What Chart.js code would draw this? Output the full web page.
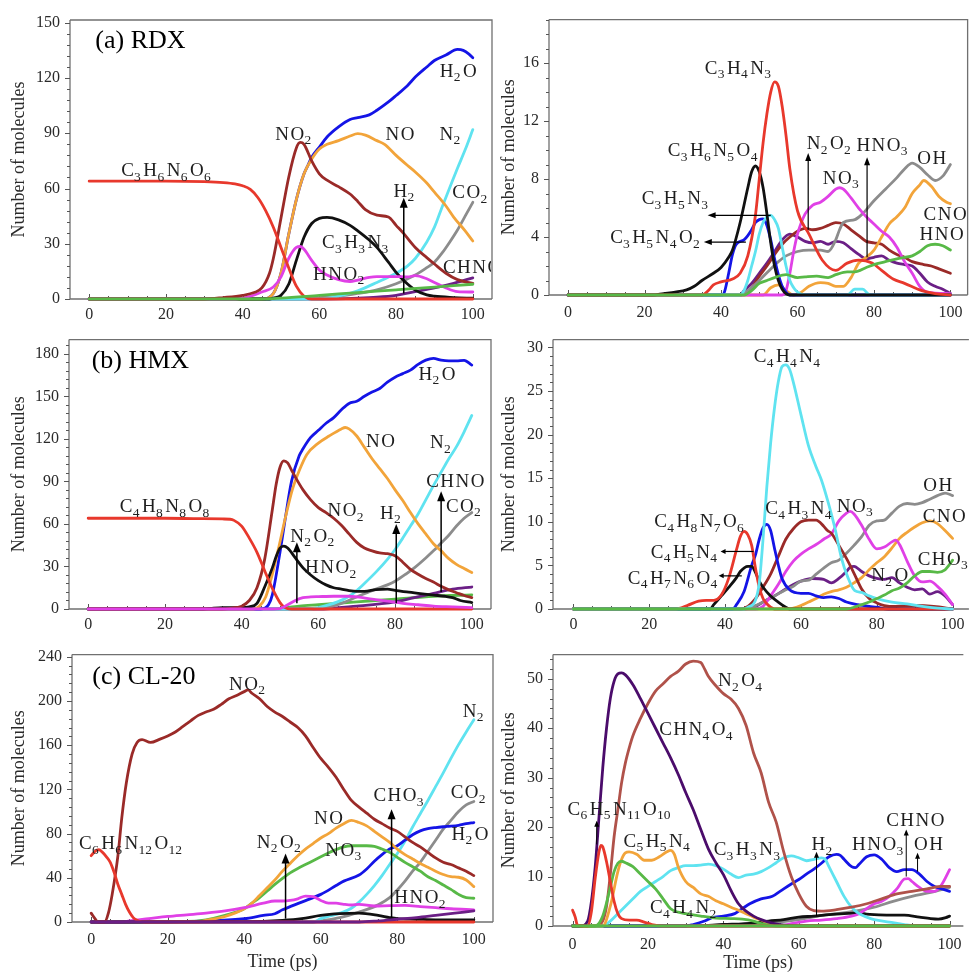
<!DOCTYPE html>
<html><head><meta charset="utf-8">
<script src="https://cdn.jsdelivr.net/npm/chart.js@4.4.1/dist/chart.umd.min.js"></script>
<style>
html,body{margin:0;padding:0;background:#fff;}
#wrap{position:relative;width:971px;height:974px;overflow:hidden;background:#fff;}
canvas{position:absolute;}
</style></head><body><div id="wrap">
<canvas id="aL"></canvas><canvas id="aR"></canvas>
<canvas id="bL"></canvas><canvas id="bR"></canvas>
<canvas id="cL"></canvas><canvas id="cR"></canvas>
</div>
<script>
// ---------------- DATA (time in ps, number of molecules) ----------------
const xTicks = [0, 20, 40, 60, 80, 100];
const yLabel = 'Number of molecules';
const xLabel = 'Time (ps)';
const panelTitles = ['(a) RDX', '(b) HMX', '(c) CL-20'];

// (a) RDX, main species
const aL_C3H6N6O6 = [[0,64],[10,64],[20,64],[30,63.7],[35,63.2],[38,62.5],[40,61.5],[42,59.5],[44,55],[46,48],[48,39],[50,28],[52,17],[54,7],[56,1.5],[58,0],[100,0]];
const aL_NO2 = [[0,0],[30,0],[35,0.8],[40,2],[43,3.5],[45,6],[47,14],[48,22],[50,44],[52,66],[54,82],[55,85],[56,84],[58,75],[60,68],[62,64.5],[65,61],[68,57],[70,53],[72,48.5],[75,45.5],[78,44.5],[80,40],[82,35.5],[85,28],[88,22.5],[90,19],[93,14],[96,10.5],[100,8.5]];
const aL_H2O = [[0,0],[45,0],[48,3],[50,14],[52,35],[54,54],[56,68],[57,72.5],[58,77],[60,82.5],[62,88],[65,93.5],[68,97.5],[70,98.5],[73,100],[75,102.5],[78,107],[80,110.5],[83,116],[85,120.5],[88,126],[90,129.5],[93,132.5],[96,135.5],[97.5,135],[99,133],[100,131]];
const aL_NO = [[0,0],[45,0],[48,3],[50,14],[52,35],[54,54],[56,68],[58,76],[60,81.5],[62,84],[65,86],[68,88.5],[70,89.8],[72,89],[75,86],[77,84],[80,78],[83,72.5],[85,69],[88,63],[90,58],[93,50.5],[95,44.5],[98,37],[100,31.5]];
const aL_N2 = [[0,0],[60,0],[65,1.5],[70,4.5],[75,9],[80,14],[83,18],[85,22],[88,31],[90,39],[92,50],[94,60.5],[96,71],[98,81],[100,92]];
const aL_CO2 = [[0,0],[55,0],[60,0.8],[65,1.5],[70,3],[75,5],[80,8.3],[85,13],[88,17],[90,20],[92,25],[94,31],[96,37.5],[98,45],[100,52.5]];
const aL_C3H3N3 = [[0,0],[47,0],[48,0.5],[50,2],[52,8],[54,21],[56,33.5],[58,41],[60,43.8],[62,44.3],[65,43],[68,40],[70,37],[73,32],[75,28],[78,20],[80,14.5],[82,10],[85,4.8],[88,2.2],[90,1.5],[95,0.8],[100,0.4]];
const aL_HNO2 = [[0,0],[38,0],[42,1.5],[45,3.8],[48,6.5],[50,12],[52,22],[54,28],[55,28.5],[56,27],[58,21],[60,15.8],[62,13],[65,10.5],[68,9.5],[70,10.3],[73,11.8],[75,12.2],[80,12.2],[83,12],[85,12.7],[88,11],[90,9],[93,6],[96,4],[100,3.8]];
const aL_CHNO = [[0,0],[60,0],[70,0.5],[75,1],[80,2],[85,4],[90,6],[95,8.5],[100,11.5]];
const aL_H2 = [[0,0],[45,0],[50,0.5],[60,2],[70,3.5],[80,5],[90,6.5],[100,8]];

// (a) RDX, intermediates
const aR_C3H4N3 = [[0,0],[35,0],[37,0.4],[38,0.7],[40,0.9],[43,1.1],[45,1.5],[47,2.7],[49,5.5],[50,8],[51,10.5],[52,12.5],[53,14],[54,14.7],[55,14.4],[56,13],[57,11],[58,8.7],[60,5.8],[63,4.2],[66.5,2.4],[70,1.7],[73,2.2],[76,2.4],[79.5,2.2],[82,1.7],[85,1.1],[88,0.8],[92.5,0.3],[96,0.1],[100,0]];
const aR_C3H6N5O4 = [[0,0],[22,0],[25,0.1],[28,0.2],[31,0.35],[33,0.6],[35,1],[38,1.5],[40,1.9],[42,2.6],[43,3.1],[45,5],[47,7.4],[48,8.5],[49,8.9],[50,8.5],[51,7.4],[52,5.6],[53,3.6],[54,2],[55,1],[56,0.4],[57,0.1],[58,0],[100,0]];
const aR_C3H5N4O2 = [[0,0],[40.5,0],[41,0.3],[42,1.5],[43,2.8],[44,3.5],[46,3.8],[47,4.1],[48,4.5],[49,5],[50,5.2],[51,5.25],[52,4.8],[53,3.8],[54,2.5],[55,1.4],[56,0.6],[57,0.2],[58,0],[100,0]];
const aR_C3H5N3 = [[0,0],[45,0],[46,0.3],[47,1],[48,2],[49,3],[50,4.2],[51,5],[52,5.4],[53,5.5],[54,5.2],[55,4.6],[56,3.3],[57,2],[58,1],[59,0.5],[60,0.2],[62,0],[73,0],[75,0.4],[77,0.4],[79,0],[100,0]];
const aR_NO3 = [[0,0],[56,0],[57,0.3],[58,1.5],[59,3],[60,4.2],[62,5.6],[64,6.2],[66,6.4],[68,6.8],[70,7.3],[71,7.4],[72,7.3],[74,6.7],[76,6],[78,5.4],[80,4.9],[82,4.4],[84,4],[86,3.3],[88,2.3],[90,1.5],[92,0.6],[94,0.2],[100,0.1]];
const aR_OH = [[0,0],[45,0],[47,0.3],[50,1],[53,1.8],[55,2.3],[57,2.7],[60,3],[63,3.1],[66,3.1],[68,3],[70,3.8],[71,4.5],[72,5],[75,5.2],[77,5.6],[80,6.5],[83,7.3],[86,8.1],[88,8.7],[90,9.1],[92,8.8],[94,8.3],[96,7.9],[98,8.2],[100,9]];
const aR_CNO = [[0,0],[51,0],[53,0.5],[55,0.7],[57,0.3],[59,0],[61,0.2],[63,0.6],[66,0.85],[68,0.8],[70,0.6],[72,0.6],[74,1.2],[76,2.2],[78,2.6],[80,3.1],[82,4],[84,4.9],[86,5.4],[88,6],[90,7],[92,7.6],[93,7.9],[95,7.5],[97,6.8],[99,6.4],[100,6.3]];
const aR_HNO = [[0,0],[46,0],[48,0.3],[50,0.8],[52,1],[54,1.2],[57,1.4],[60,1.2],[62,1.25],[65,1.3],[68,1.2],[70,1.4],[73,1.6],[75,1.6],[78,1.9],[80,2.1],[83,2.3],[86,2.5],[88,2.6],[90,2.7],[92,3],[94,3.4],[96,3.5],[98,3.4],[100,3.1]];
const aR_N2O2 = [[0,0],[45,0],[48,0.5],[50,1.3],[52,2],[54,2.8],[56,3.5],[58,4],[60,4.4],[62,4.6],[64,4.5],[66,4.6],[68,4.8],[70,5],[72,4.9],[74,4.5],[76,4.1],[78,3.7],[80,3.6],[82,3.5],[84,3.1],[86,2.8],[88,2.6],[90,2.3],[93,2.1],[95,2],[97,1.8],[100,1.5]];
const aR_HNO3 = [[0,0],[45,0],[46,0.3],[48,0.8],[50,1.5],[52,2.2],[54,3],[56,3.8],[58,4.2],[60,4],[62,3.7],[64,3.6],[66,3.7],[68,3.5],[70,3.7],[72,3.6],[74,3.2],[76,2.8],[78,2.5],[80,2.6],[82,2.7],[84,2.4],[86,2.2],[88,2.1],[90,2],[92,1.5],[94,0.9],[96,0.6],[98,0.4],[100,0.1]];

// (b) HMX, main species
const bL_C4H8N8O8 = [[0,64],[10,64],[20,64],[30,63.7],[35,63.5],[37,63.3],[38,62.5],[40,58.5],[42,50],[44,40],[46,27],[48,14.5],[50,4.5],[51,1.5],[52,0.3],[53,0],[100,0]];
const bL_NO2 = [[0,0],[35,0],[37,0.5],[40,2],[42,6],[44,15],[46,35],[48,70],[49,88],[50,100],[51,104.5],[52,103],[53,98],[54,93],[56,84],[58,77],[60,71.5],[62,68],[64,64],[66,59],[68,53],[70,47],[72,43],[74,41],[76,39.5],[78,39],[80,37.5],[82,33],[84,28],[86,24.5],[88,21.5],[90,19],[92,16],[94,13.5],[96,11.5],[98,9.5],[100,8]];
const bL_H2O = [[0,0],[45,0],[47,3],[48,10],[50,40],[51.5,66],[53,90],[55,108],[56,113],[58,121],[60,126],[62,131],[64,135],[66,140.5],[68,145],[70,146.5],[72,150],[74,153],[76,155.5],[78,160],[80,163.5],[82,166],[84,168.5],[86,172.5],[88,175.5],[90,176.8],[92,175.5],[94,175],[96,175],[98,175.4],[100,172]];
const bL_NO = [[0,0],[43,0],[44.6,2],[46.3,8.7],[48,24.6],[49.8,45],[51.5,65.6],[53.2,84],[55,97.5],[57,109],[60,117],[62.8,122],[66,127],[67,128],[68,127],[70,122],[72,114],[74,106],[76,99],[78,92],[80,84],[82,76.5],[84,68],[86,60],[88,53],[90,46],[92,41],[94,35.5],[96,31.5],[98,28.5],[100,25.7]];
const bL_N2 = [[0,0],[58,0],[60,1],[65,5],[68,9],[70,13],[72,18],[75,26],[78,35],[80,42],[82,50],[84,58.5],[86,67],[88,77],[90,87],[92,96.5],[94,106],[96,114.5],[98,125],[100,136.5]];
const bL_CO2 = [[0,0],[58,0],[62,1],[65,3],[70,8.5],[75,14],[78,17],[80,19.6],[83,25],[85,29],[88,36],[90,41],[92,46.5],[94,52],[96,58.5],[98,64],[100,68]];
const bL_N2O2 = [[0,0],[30,0],[32,0.5],[35,1],[40,1],[42,1.5],[44,4],[46,15.5],[48,29],[49,37],[50,43],[51,44.4],[52,43],[54,36],[56,29],[58,24],[60,20],[62,17],[64,15],[66,14],[68,13],[70,12.5],[72,12.5],[75,13.7],[78,14],[80,13.2],[83,12],[86,11],[90,9.8],[93,9],[95,8],[97,6],[100,4.5]];
const bL_HNO2 = [[0,0],[48,0],[50,0.3],[52,3],[54,6],[56,8],[58,8.5],[60,8.7],[64,9],[68,9],[70,8.5],[74,7],[78,5.5],[82,4],[86,3],[90,2],[95,1.5],[100,1]];
const bL_CHNO = [[0,0],[60,0],[70,2],[80,5],[85,8],[90,11],[95,14],[100,15.5]];
const bL_H2 = [[0,0],[48,0],[50,0.5],[55,2],[60,3],[70,5],[80,7],[90,9],[100,10]];

// (b) HMX, intermediates
const bR_C4H4N4 = [[0,0],[45,0],[46,0.2],[48,1],[49,3],[50,8],[51,14],[52,19],[53,23],[54,26],[55,27.8],[56,28],[57,27.5],[58,26],[60,22.3],[62,18.7],[64,16.3],[65.4,14.8],[67.2,12.2],[69,9.2],[70.7,5.8],[72.4,3.6],[74.2,2.1],[76,1.9],[78,1.5],[80,1.2],[84,0.8],[88,0.6],[92,0.3],[96,0.1],[100,0]];
const bR_C4H8N7O6 = [[0,0],[27,0],[30,0.4],[33,0.9],[35,1],[37,1],[39,1.6],[41,3.6],[43,6.8],[44,8.3],[45,8.9],[46,8.5],[47,7.3],[48,4.7],[49,2.5],[50,1.2],[51,0.6],[52,0.2],[53,0],[100,0]];
const bR_C4H7N6O4 = [[0,0],[36,0],[37,0.5],[39,1.5],[41,2.5],[43,3.6],[44,4.3],[46,4.9],[47,4.9],[48,4.2],[49,3.2],[50,2.5],[52,1.5],[54,0.8],[56,0.2],[57,0],[100,0]];
const bR_C4H5N4 = [[0,0],[42,0],[43,0.5],[45,2],[47,5],[48,6.2],[49,8],[50,9.3],[51,9.7],[52,9],[53,7],[54,5.1],[55,3.5],[57,2.2],[60,1.8],[62,1.8],[64,1.5],[66,1.3],[68,1.4],[70,1.2],[72,0.8],[75,0.5],[78,0.3],[80,0.2],[83,0],[100,0]];
const bR_C4H3N4 = [[0,0],[44,0],[46,0.3],[48,1.2],[50,2.5],[52,4],[54,6],[56,8],[58,9.2],[60,10],[62,10.2],[64,10.2],[66,9.5],[67,9],[68,8.7],[70,7.3],[72,5.8],[74,4.1],[76,2.3],[78,1.2],[80,0.7],[82,0.4],[85,0.3],[90,0.4],[95,0.3],[100,0]];
const bR_NO3 = [[0,0],[48,0],[50,0.3],[52,1.5],[54,2.8],[56,4.3],[58,5.5],[60,6.3],[62,6.9],[64,7.4],[66,8],[68,8.6],[70,10.1],[72,11],[73,11.2],[74,10.9],[76,9.6],[78,8],[80,6.9],[82,7.1],[84,7.7],[85,7.9],[86,7.4],[88,5.5],[90,3.8],[92,3.1],[94,3.2],[96,2.6],[98,1.7],[100,0.5]];
const bR_OH = [[0,0],[45,0],[47,0.2],[50,0.8],[53,1.5],[56,2.2],[58,2.6],[60,3.2],[62,3.3],[64,4],[66,4.7],[68,5.3],[70,5.6],[72,6.4],[74,7.3],[76,8.3],[78,9.6],[80,10.1],[82,10.2],[84,11],[86,11.8],[88,12.1],[90,12],[92,12.2],[94,12.6],[96,13],[98,13.3],[100,13]];
const bR_CNO = [[0,0],[57,0],[58,0.1],[60,0.4],[62,0.8],[64,1.2],[66,1.7],[68,2],[70,2.2],[72,2.5],[74,3],[76,3.6],[78,4.5],[80,5.3],[82,6],[84,7],[86,8.1],[88,8.8],[90,9.4],[92,9.9],[94,10.1],[96,9.8],[98,9],[100,8.1]];
const bR_N2O = [[0,0],[45,0],[48,0.3],[50,0.8],[53,1.5],[56,2.3],[58,2.8],[60,3.2],[63,3.5],[66,3.4],[68,3],[70,3.5],[72,4.3],[73,4.8],[74,4.9],[76,4.3],[78,3.8],[80,3.5],[82,3.4],[84,3.6],[86,3],[88,2.5],[90,2.2],[92,2.3],[94,1.7],[96,2],[98,1.5],[100,0.5]];
const bR_CHO3 = [[0,0],[72,0],[74,0.2],[76,0.5],[78,0.8],[80,1.2],[82,1.6],[84,2.1],[86,2.4],[88,3],[90,3.8],[92,4.3],[94,4.3],[96,4.2],[98,4.5],[99,5],[100,5.6]];

// (c) CL-20, main species
const cL_C6H6N12O12 = [[0,60],[1,64],[2,65.5],[3,63],[4,59],[5,54],[6,45],[7,34],[8,25],[9,16],[10,9],[11,4],[12,1.5],[13,0.3],[14,0],[100,0]];
const cL_NO2 = [[0,8],[1,3],[1.8,0],[3.5,0],[4.5,8],[5.5,25],[7,60],[8,94],[9.2,126],[10.7,152],[12,162.5],[13.3,165],[15.5,162.5],[18,165.5],[20,168.4],[22,172],[24,177],[26,182],[28,187],[30,190],[32,192.5],[34,197],[36,202],[38,205],[40,208.5],[41,210],[42,207],[44,202],[46,195],[48,190],[50,186],[52,181],[54,176],[56,168.5],[58,158],[60,148],[62,140],[64,131],[66,120],[68,110],[70,104],[72,98.5],[74,93],[76,89],[78,85],[80,82],[82,77],[84,72],[86,68],[88,63],[90,58],[92,54],[94,52],[96,49],[98,46],[100,42]];
const cL_NO = [[0,0],[28,0],[30,1.5],[35,5],[40,12],[42,17],[44,24],[46,31],[48,38],[50,46],[52,53],[54,60],[56,66],[58,71],[60,76],[62,80],[64,85],[66,89],[68,92],[70,90],[72,87],[74,82],[76,77],[78,72],[80,66],[82,61],[84,57],[86,53],[88,49.6],[90,46],[92,43],[94,41],[96,40.5],[98,38],[100,32]];
const cL_NO3 = [[0,0],[25,0.5],[30,2],[35,6],[40,12],[42,17],[44,22],[46,28],[48,34],[50,39.5],[52,44.5],[54,48.5],[56,52],[58,55.5],[60,59],[62,62.5],[64,65.5],[66,68],[68,69],[70,69],[72,69],[74,68.5],[76,66],[78,63],[80,58.5],[82,54],[84,50],[86,46],[88,41],[90,37.5],[92,33.5],[94,29.5],[96,25],[98,22],[100,21.5]];
const cL_H2O = [[0,0],[20,0],[30,1],[40,3],[45,6],[48,7.5],[50,11],[55,18],[60,25],[64,33],[66,37],[70,42.5],[72,48],[74,55],[76,61],[78,66],[80,69],[82,74],[84,79],[86,82.5],[88,84.5],[90,85.5],[93,86.5],[96,87.5],[98,89],[100,90]];
const cL_N2 = [[0,0],[58,0],[60,3],[62,5],[65,8],[68,12.5],[70,18],[72,25],[74,33],[76,42],[78,52],[80,62],[82,73],[84,86],[86,98],[88,110],[90,122.5],[92,135],[94,148],[96,160.5],[98,172],[100,183]];
const cL_CO2 = [[0,0],[58,0],[60,1],[65,4],[70,9],[75,15.5],[78,22],[80,29],[82,37],[84,46],[86,54],[88,64],[90,74],[92,84],[94,92],[96,100],[98,106],[100,109]];
const cL_HNO2 = [[0,0],[8,0],[10,1],[15,3],[20,5],[25,6.5],[30,8],[35,10],[40,13],[45,17],[48,19],[50,19],[52,19.5],[54,21],[56,23.5],[58,23],[60,19.5],[62,17],[64,17],[66,16],[68,15.4],[70,16],[74,14.5],[78,14.8],[82,15],[86,14],[90,13],[94,12],[100,11]];
const cL_CHO3 = [[0,0],[40,0.3],[50,1.5],[55,3],[60,6],[65,7.5],[70,8],[75,6],[78,4],[80,3],[85,2.5],[90,2],[100,2]];
const cL_N2O2 = [[0,0],[70,0],[75,1],[80,2.5],[85,4],[90,6],[95,8],[100,10]];

// (c) CL-20, intermediates
const cR_C6H5N11O10 = [[0,3.2],[0.7,1.8],[1.2,0.3],[2,0],[4,0],[5,3],[6,9.7],[7,15],[7.5,16.3],[8,16],[9,13],[10,9],[11,5],[12,2.5],[13,1.5],[15,1.2],[17,1.2],[19,0.8],[21,0.3],[24,0],[100,0]];
const cR_CHN4O4 = [[0,0],[2,0],[4,1],[5,5],[6,12],[7,22],[8,32],[9,40],[10,46],[11,49.5],[12,51],[13,51.2],[14,50.8],[16,48.8],[18,46],[20,43],[22,40],[24,37],[26,34],[28,30.7],[30,27],[32,23.5],[34,19.5],[36,15.6],[38,12.8],[40,10.4],[42,7.2],[44,4.5],[46,3],[48,2],[50,1.3],[52,0.8],[55,0.3],[60,0],[100,0]];
const cR_N2O4 = [[0,0],[5,0],[7,0.3],[8,1],[9,4],[10,10.4],[11,18],[12,23.5],[13,29],[14,33],[15,36],[16,38.5],[18,42],[20,45],[22,47.5],[24,49],[26,50.5],[28,51.5],[30,53],[32,53.6],[34,53.3],[35,52],[36,50.5],[38,48.6],[40,47],[42,45.9],[44,44],[46,40.6],[48,35],[50,31],[52,25],[54,21],[56,15],[58,10],[60,6.5],[62,4],[64,3.1],[66,3],[70,3.3],[74,3.8],[78,4.5],[82,5.5],[86,6.5],[90,7],[94,7.5],[98,8],[100,8]];
const cR_C5H5N4 = [[0,0],[8,0],[10,4],[12,11],[13,13.5],[14,14.8],[15,15],[17,14.5],[19,13.3],[21,13.3],[23,14],[25,15],[26,15.3],[27,14.5],[28,12],[30,9],[32,7.8],[34,6.5],[36,6],[38,5.1],[40,4.5],[42,3.8],[44,3.2],[46,2.5],[48,1.8],[50,1.2],[52,0.5],[54,0.2],[56,0],[100,0]];
const cR_C4H4N2 = [[0,0],[6,0],[8,2],[10,7.8],[11,11],[12,12.7],[13,13.1],[14,12.8],[16,12],[18,10.5],[20,9],[22,7.5],[24,5.5],[26,3.5],[28,2.8],[30,2.5],[34,2],[38,1.6],[42,1.5],[45,1.4],[48,1],[50,0.5],[52,0.2],[55,0],[100,0]];
const cR_C3H3N3 = [[0,0],[8,0],[10,1],[12,2.5],[14,4],[16,5.5],[18,7],[20,8],[22,9],[24,10],[26,11.2],[28,11.8],[30,12.2],[32,12.2],[34,12.3],[36,12.5],[38,12.2],[40,11.5],[42,10.5],[44,9.8],[46,10.3],[48,10.5],[50,11],[52,11.8],[54,12.8],[56,13.8],[58,14.2],[60,13.8],[62,13.2],[64,13.5],[66,13.8],[67,13.5],[68,12],[70,9],[72,6],[74,3.8],[76,2.5],[78,1.8],[80,1.3],[84,0.8],[88,0.3],[92,0],[100,0]];
const cR_H2 = [[0,0],[30,0],[32,0.3],[35,1],[37,1.7],[40,2],[43,2.5],[45,3.5],[47,4.5],[50,5.5],[53,6],[55,7],[58,8.5],[60,9.4],[62,10.5],[64,11.5],[66,12.7],[68,14],[70,14.5],[71,14.3],[72,13.5],[74,12],[75,11.8],[76,12.5],[78,14],[80,14.4],[82,13.5],[84,11.8],[86,11],[88,11.4],[90,11.4],[92,10.5],[94,9],[96,8],[98,7.5],[100,7]];
const cR_HNO3 = [[0,0],[55,0],[58,0.5],[62,1],[66,1.2],[70,1.5],[74,2],[76,2.5],[78,3.5],[80,4.5],[82,5],[84,6],[86,7.5],[88,9.5],[89,9.6],[90,9],[92,7.8],[94,7],[96,7],[98,8.5],[100,11.4]];
const cR_OH = [[0,0],[45,0],[50,0.5],[55,0.8],[60,1.3],[65,2],[70,2.5],[75,3],[80,3.8],[85,5],[90,6],[95,6.8],[100,7.8]];
const cR_CHNO = [[0,0],[30,0],[40,0.3],[48,0.6],[52,1],[56,1.3],[60,1.8],[64,2],[68,2.3],[72,2.5],[76,2.6],[78,2.4],[80,2.3],[84,2.2],[88,2.2],[92,1.8],[95,1.5],[97,1.4],[99,1.7],[100,2]];
const cR_zero = [[0,0],[50,0],[100,0]];

// ---------------- STYLE ----------------
const FONT = 'Liberation Serif';
const C = {red:'#e8382c', brown:'#9a2a28', brown2:'#b0524a', blue:'#1414e6', orange:'#f2a43a', cyan:'#5fe3f0',
  gray:'#8c8c8c', black:'#111111', magenta:'#e040e6', purple:'#6b1f86', dpurple:'#4b0c6b', green:'#58b947'};

const panels = [
 {id:'aL', box:{l:0,t:0,w:500,h:325}, area:{l:70,t:20,r:492,b:299}, xmin:-5, xmax:105, ymax:151.5, ystep:30, yminor:6, xpad:6, rightFrame:true, clipLabels:true,
  title:[panelTitles[0], 1.6, 140],
  series:[[aL_H2,C.green],[aL_C3H6N6O6,C.red],[aL_NO2,C.brown],[aL_HNO2,C.magenta],[aL_C3H3N3,C.black],[aL_NO,C.orange],[aL_H2O,C.blue],[aL_N2,C.cyan],[aL_CO2,C.gray],[aL_CHNO,C.purple]],
  labels:[['C3H6N6O6',20,70],['NO2',53.2,90],['NO',81,90],['N2',94,90],['H2O',96.2,124],['H2',82,59],['CO2',99.2,58],['C3H3N3',69.3,31],['HNO2',65,13.8],['CHNO',99.8,17.4]],
  arrows:[[82,3,82,55]], head:[10,4], aw:1.5},
 {id:'aR', box:{l:490,t:0,w:481,h:325}, area:{l:549,t:17,r:969,b:295}, xmin:-5, xmax:104.5, ymax:19, ystep:4, yminor:1, xpad:8.5, rightFrame:true,
  series:[[aR_HNO,C.green],[aR_C3H4N3,C.red],[aR_C3H6N5O4,C.black],[aR_C3H5N3,C.cyan],[aR_C3H5N4O2,C.blue],[aR_NO3,C.magenta],[aR_OH,C.gray],[aR_CNO,C.orange],[aR_N2O2,C.brown],[aR_HNO3,C.purple]],
  labels:[['C3H4N3',44.4,15.7],['C3H6N5O4',37.8,10.0],['C3H5N3',27.9,6.7],['C3H5N4O2',22.7,4.0],['N2O2',68.2,10.5],['HNO3',82.1,10.4],['NO3',71.3,8.1],['OH',95.1,9.5],['CNO',98.6,5.6],['HNO',97.7,4.2]],
  arrows:[[62.8,4.5,62.8,9.8],[78.2,2.6,78.2,9.5],[53,5.5,36.5,5.5],[46.5,3.65,35.5,3.65]], head:[8,3], aw:1.2},
 {id:'bL', box:{l:0,t:320,w:500,h:315}, area:{l:69,t:331,r:491,b:609}, xmin:-5, xmax:105, ymax:190, ystep:30, yminor:6, xpad:6.4, rightFrame:true,
  title:[panelTitles[1], 0.9, 175],
  series:[[bL_HNO2,C.magenta],[bL_C4H8N8O8,C.red],[bL_NO2,C.brown],[bL_N2O2,C.black],[bL_NO,C.orange],[bL_H2O,C.blue],[bL_N2,C.cyan],[bL_CO2,C.gray],[bL_CHNO,C.purple],[bL_H2,C.green]],
  labels:[['C4H8N8O8',19.9,72.5],['H2O',90.9,166],['NO',76.2,118.5],['N2',91.8,118],['CHNO',95.7,90.7],['CO2',97.8,72.9],['NO2',67.1,70],['H2',78.8,68],['N2O2',58.4,52],['HNO2',63.2,29.6]],
  arrows:[[54.4,4,54.4,47],[80.3,4,80.3,60],[92,12,92,83]], head:[10,4], aw:1.5},
 {id:'bR', box:{l:490,t:320,w:481,h:315}, area:{l:553,t:333,r:971,b:609}, xmin:-5.4, xmax:104.3, ymax:30.9, ystep:5, yminor:1, xpad:6.4, rightFrame:false,
  series:[[bR_CHO3,C.green],[bR_C4H4N4,C.cyan],[bR_C4H8N7O6,C.red],[bR_C4H7N6O4,C.black],[bR_C4H5N4,C.blue],[bR_C4H3N4,C.brown],[bR_NO3,C.magenta],[bR_OH,C.gray],[bR_CNO,C.orange],[bR_N2O,C.purple]],
  labels:[['C4H4N4',56.3,29],['C4H3N4',59.3,11.6],['NO3',74.2,11.9],['OH',96.1,14.2],['CNO',97.8,10.7],['CHO3',97.4,5.8],['N2O',83.4,3.9],['C4H8N7O6',33.1,10.1],['C4H5N4',29.1,6.6],['C4H7N6O4',26.1,3.6]],
  arrows:[[47.5,6.6,38.8,6.6],[44.4,3.8,38.3,3.8]], head:[5,2.5], aw:1.2},
 {id:'cL', box:{l:0,t:635,w:500,h:339}, area:{l:72,t:644,r:493,b:922}, xmin:-5, xmax:105, ymax:242, ystep:40, yminor:8, xpad:8.4, rightFrame:true, xtitle:true, xtpad:1.2,
  title:[panelTitles[2], 0.3, 222],
  series:[[cL_N2O2,C.purple],[cL_C6H6N12O12,C.red],[cL_NO2,C.brown],[cL_CHO3,C.black],[cL_HNO2,C.magenta],[cL_NO,C.orange],[cL_NO3,C.green],[cL_H2O,C.blue],[cL_N2,C.cyan],[cL_CO2,C.gray]],
  labels:[['NO2',40.7,216],['N2',99.8,191.6],['C6H6N12O12',10.3,71.3],['NO',62,94.5],['NO3',65.9,65.5],['N2O2',49,72.7],['CHO3',80.3,114.8],['CO2',98.5,117.7],['H2O',99,80],['HNO2',85.9,22.6]],
  arrows:[[50.8,3,50.8,62],[78.5,4,78.5,102]], head:[10,4], aw:1.5},
 {id:'cR', box:{l:490,t:635,w:481,h:339}, area:{l:553,t:647,r:971,b:926}, xmin:-5.2, xmax:103.65, ymax:54.9, ystep:10, yminor:2, xpad:9.4, rightFrame:false, xtitle:true, xtpad:0,
  series:[[cR_zero,C.green],[cR_C6H5N11O10,C.red],[cR_CHN4O4,C.dpurple],[cR_C4H4N2,C.green],[cR_C5H5N4,C.orange],[cR_N2O4,C.brown2],[cR_C3H3N3,C.cyan],[cR_H2,C.blue],[cR_HNO3,C.magenta],[cR_CHNO,C.black],[cR_OH,C.gray]],
  labels:[['N2O4',44.4,49.8],['CHN4O4',32.7,39.9],['C6H5N11O10',12.3,23.8],['C5H5N4',22.3,17.3],['C3H3N3',46.2,15.6],['C4H4N2',29.3,3.8],['H2',66.1,16.6],['HNO3',80.9,16.6],['CHNO',90.9,21.5],['OH',94.4,16.6]],
  arrows:[[6.4,16.5,6.4,21.3],[64.7,2,64.7,15],[88.5,10,88.5,19.5],[91.5,11,91.5,14.8]], head:[6,2.5], aw:1.0}
];

// ---------------- DRAW HELPERS ----------------
function drawFormula(ctx, text, cx, cy) {
  const size = 19, sub = 13.5;
  const toks = [...text].map(ch => ({ch, s: /[0-9]/.test(ch)}));
  let w = 0;
  toks.forEach((t, i) => {
    ctx.font = (t.s ? sub : size) + 'px "' + FONT + '"';
    t.w = ctx.measureText(t.ch).width;
    const n = toks[i + 1];
    if (!n) t.gap = 0;
    else if (t.s && n.s) t.gap = 0;
    else if (!t.s && n.s) t.gap = 0.3;
    else if (t.s && !n.s) t.gap = 2.5;
    else t.gap = 1.5;
    w += t.w + t.gap;
  });
  let x = cx - w / 2;
  const base = cy + size * 0.33;
  ctx.textAlign = 'left'; ctx.textBaseline = 'alphabetic';
  toks.forEach(t => {
    ctx.font = (t.s ? sub : size) + 'px "' + FONT + '"';
    ctx.fillText(t.ch, x, t.s ? base + size * 0.24 : base);
    x += t.w + t.gap;
  });
}
function drawArrow(ctx, x1, y1, x2, y2, lw, hl, hw) {
  const dx = x2 - x1, dy = y2 - y1, L = Math.hypot(dx, dy), ux = dx / L, uy = dy / L;
  ctx.lineWidth = lw; ctx.strokeStyle = '#000'; ctx.fillStyle = '#000';
  ctx.beginPath(); ctx.moveTo(x1, y1); ctx.lineTo(x2 - ux * hl * 0.7, y2 - uy * hl * 0.7); ctx.stroke();
  ctx.beginPath(); ctx.moveTo(x2, y2);
  ctx.lineTo(x2 - ux * hl - uy * hw, y2 - uy * hl + ux * hw);
  ctx.lineTo(x2 - ux * hl + uy * hw, y2 - uy * hl - ux * hw);
  ctx.closePath(); ctx.fill();
}
function decor(P) {
  return {
    id: 'decor_' + P.id,
    beforeDatasetsDraw(chart) {
      const {ctx, chartArea: a, scales: {x, y}} = chart;
      ctx.save();
      ctx.strokeStyle = '#707070'; ctx.lineWidth = 1.3;
      ctx.beginPath();
      ctx.moveTo(a.left, a.top); ctx.lineTo(a.right, a.top);
      if (P.rightFrame) ctx.lineTo(a.right, a.bottom);
      ctx.moveTo(a.left, a.top); ctx.lineTo(a.left, a.bottom); ctx.lineTo(a.right, a.bottom);
      ctx.stroke();
      ctx.lineWidth = 1; ctx.strokeStyle = '#555';
      ctx.beginPath();
      for (let v = 0; v <= 100; v += 5) {
        const px = Math.round(x.getPixelForValue(v)) + 0.5;
        const len = xTicks.includes(v) ? 5 : 3;
        ctx.moveTo(px, a.bottom); ctx.lineTo(px, a.bottom - len);
      }
      for (let i = 0; i * P.yminor <= P.ymax + 1e-9; i++) {
        const v = i * P.yminor;
        const r = v / P.ystep, major = Math.abs(r - Math.round(r)) < 1e-6;
        const py = Math.round(y.getPixelForValue(v)) + 0.5;
        ctx.moveTo(a.left, py); ctx.lineTo(a.left - (major ? 5 : 3), py);
      }
      ctx.stroke();
      ctx.restore();
    },
    afterDatasetsDraw(chart) {
      const {ctx, chartArea: a, scales: {x, y}} = chart;
      ctx.save();
      if (P.clipLabels) { ctx.beginPath(); ctx.rect(0, 0, a.right - 1, chart.height); ctx.clip(); }
      ctx.fillStyle = '#1e1e1e';
      P.labels.forEach(([t, vx, vy]) => drawFormula(ctx, t, x.getPixelForValue(vx), y.getPixelForValue(vy)));
      P.arrows.forEach(([x1, y1, x2, y2]) => drawArrow(ctx, x.getPixelForValue(x1), y.getPixelForValue(y1), x.getPixelForValue(x2), y.getPixelForValue(y2), P.aw, P.head[0], P.head[1]));
      if (P.title) {
        ctx.fillStyle = '#000';
        ctx.font = '26px "' + FONT + '"'; ctx.textAlign = 'left'; ctx.textBaseline = 'middle';
        ctx.fillText(P.title[0], x.getPixelForValue(P.title[1]), y.getPixelForValue(P.title[2]));
      }
      ctx.restore();
    }
  };
}

function build(P) {
  const cv = document.getElementById(P.id);
  cv.width = P.box.w; cv.height = P.box.h;
  cv.style.left = P.box.l + 'px'; cv.style.top = P.box.t + 'px';
  const A = P.area;
  const yW = A.l - P.box.l, padTop = A.t - P.box.t, xH = P.box.t + P.box.h - A.b, padRight = P.box.l + P.box.w - A.r;
  const tickFont = {family: FONT, size: 16};
  new Chart(cv, {
    type: 'line',
    data: {datasets: P.series.map(([d, col]) => ({
      data: d.map(([vx, vy]) => ({x: vx, y: vy})), borderColor: col, backgroundColor: col,
      borderWidth: 2.8, pointRadius: 0, cubicInterpolationMode: 'monotone', fill: false, clip: 4,
      borderCapStyle: 'round', borderJoinStyle: 'round'}))},
    options: {
      responsive: false, animation: false, events: [], devicePixelRatio: 1,
      layout: {padding: {left: 0, top: padTop, right: padRight, bottom: 0}},
      plugins: {legend: {display: false}, tooltip: {enabled: false}},
      scales: {
        x: {type: 'linear', min: P.xmin, max: P.xmax,
            grid: {display: false, drawTicks: false}, border: {display: false},
            ticks: {stepSize: 20, includeBounds: false, autoSkip: false, maxRotation: 0, padding: P.xpad, font: tickFont, color: '#2a2a2a'},
            title: {display: !!P.xtitle, text: xLabel, color: '#2a2a2a', font: {family: FONT, size: 18}, padding: {top: 0, bottom: P.xtpad || 0}},
            afterFit(s) { s.height = xH; }},
        y: {type: 'linear', min: 0, max: P.ymax,
            grid: {display: false, drawTicks: false}, border: {display: false},
            ticks: {stepSize: P.ystep, includeBounds: false, autoSkip: false, padding: 10, font: tickFont, color: '#2a2a2a'},
            title: {display: true, text: yLabel, color: '#2a2a2a', font: {family: FONT, size: 18}, padding: {top: 8.5, bottom: 0}},
            afterFit(s) { s.width = yW; }}
      }
    },
    plugins: [decor(P)]
  });
}
panels.forEach(build);
</script>
</body></html>
